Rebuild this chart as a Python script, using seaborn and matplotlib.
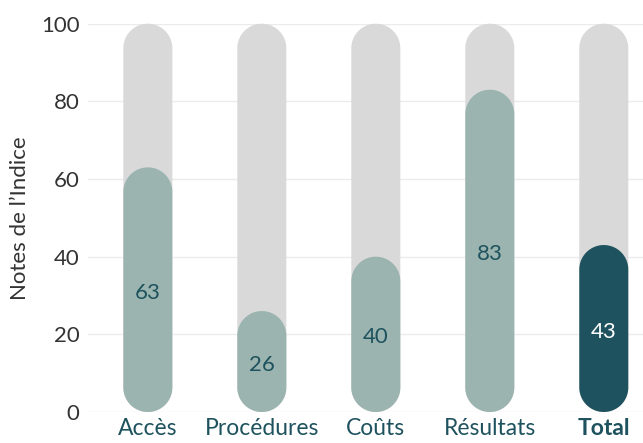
import numpy as np
import pandas as pd
import seaborn as sns
import matplotlib
matplotlib.use("Agg")
import matplotlib.pyplot as plt
import matplotlib.transforms as mtransforms
from matplotlib.patches import Polygon

categories = ["Accès", "Procédures", "Coûts", "Résultats", "Total"]
scores = [63, 26, 40, 83, 43]
max_scores = [100, 100, 100, 100, 100]
y_ticks = [0, 20, 40, 60, 80, 100]

BG = "#d9d9d9"
SAGE = "#9bb4af"
TEAL = "#1e525e"

sns.set_theme(style="white")
plt.rcParams['font.family'] = ['Lato', 'DejaVu Sans']

fig = plt.figure(figsize=(6.43, 4.43), dpi=100)
ax = fig.add_axes([88 / 643, 31 / 443, (643 - 88) / 643, (412 - 23.7) / 443])

df = pd.DataFrame({"cat": categories, "score": scores, "max": max_scores})
colors = [SAGE] * (len(categories) - 1) + [TEAL]

sns.barplot(data=df, x="cat", y="max", color=BG, width=0.43, ax=ax,
            saturation=1)
sns.barplot(data=df, x="cat", y="score", hue="cat", palette=colors,
            legend=False, width=0.43, ax=ax, saturation=1)

ax.set_xlim(-0.525, 4.344)
ax.set_ylim(0, 100)

# convert bars to capsules (semicircular ends in screen space)
fig.canvas.draw()
bbox = ax.get_window_extent()
xl = ax.get_xlim(); yl = ax.get_ylim()
xpp = (xl[1] - xl[0]) / bbox.width
ypp = (yl[1] - yl[0]) / bbox.height
aspect = ypp / xpp
for p in list(ax.patches):
    x, y = p.get_x(), p.get_y()
    w, h = p.get_width(), p.get_height()
    fc = p.get_facecolor()
    z = p.get_zorder()
    p.remove()
    rx = w / 2
    ry = rx * aspect
    cx = x + rx
    t_top = np.linspace(0, np.pi, 60)
    t_bot = np.linspace(np.pi, 2 * np.pi, 60)
    top = np.column_stack([cx + rx * np.cos(t_top), y + h - ry + ry * np.sin(t_top)])
    bot = np.column_stack([cx + rx * np.cos(t_bot), y + ry + ry * np.sin(t_bot)])
    pts = np.vstack([top, bot])
    ax.add_patch(Polygon(pts, closed=True, facecolor=fc, edgecolor="none",
                         zorder=z, clip_on=False))

txt_tr = mtransforms.offset_copy(ax.transData, fig=fig, x=0, y=-2.2, units="points")
for i, v in enumerate(scores):
    ax.text(i, v / 2, str(v), ha="center", va="center", fontsize=16,
            transform=txt_tr,
            color="white" if i == len(scores) - 1 else TEAL)

ax.set_yticks(y_ticks)
ax.yaxis.grid(True, color="#ebebeb", lw=1)
ax.set_axisbelow(True)
for s in ax.spines.values():
    s.set_visible(False)
ax.tick_params(axis="x", colors=TEAL, length=0, labelsize=16.5, pad=4)
ax.tick_params(axis="y", colors="#333333", length=0, labelsize=16, pad=6)
ax.get_xticklabels()[-1].set_fontweight("bold")
ax.set_xlabel("")
ax.set_ylabel("Notes de l’Indice", fontsize=16, color="#333333", labelpad=8)

fig.savefig("out.png", dpi=100)
